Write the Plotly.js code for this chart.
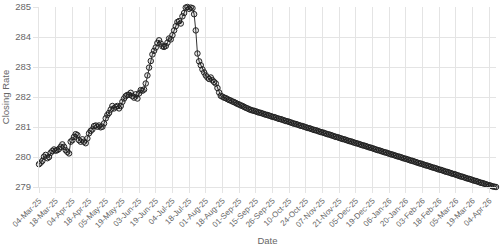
<!DOCTYPE html>
<html>
<head>
<meta charset="utf-8">
<script src="https://cdn.plot.ly/plotly-3.0.1.min.js"></script>
<style>html,body{margin:0;padding:0;background:#fff;}#chart{width:500px;height:250px;}</style>
</head>
<body>
<div id="chart"></div>
<script>
const dates = [
"04-Mar-25","05-Mar-25","06-Mar-25","07-Mar-25","10-Mar-25","11-Mar-25","12-Mar-25","13-Mar-25","14-Mar-25","17-Mar-25",
"18-Mar-25","19-Mar-25","20-Mar-25","21-Mar-25","24-Mar-25","25-Mar-25","26-Mar-25","27-Mar-25","28-Mar-25","03-Apr-25",
"04-Apr-25","07-Apr-25","08-Apr-25","09-Apr-25","10-Apr-25","11-Apr-25","14-Apr-25","15-Apr-25","16-Apr-25","17-Apr-25",
"18-Apr-25","21-Apr-25","22-Apr-25","23-Apr-25","24-Apr-25","25-Apr-25","28-Apr-25","29-Apr-25","30-Apr-25","02-May-25",
"05-May-25","06-May-25","07-May-25","08-May-25","09-May-25","12-May-25","13-May-25","14-May-25","15-May-25","16-May-25",
"19-May-25","20-May-25","21-May-25","22-May-25","23-May-25","26-May-25","27-May-25","29-May-25","30-May-25","02-Jun-25",
"03-Jun-25","04-Jun-25","05-Jun-25","10-Jun-25","11-Jun-25","12-Jun-25","13-Jun-25","16-Jun-25","17-Jun-25","18-Jun-25",
"19-Jun-25","20-Jun-25","23-Jun-25","24-Jun-25","25-Jun-25","26-Jun-25","27-Jun-25","30-Jun-25","02-Jul-25","03-Jul-25",
"04-Jul-25","07-Jul-25","08-Jul-25","09-Jul-25","10-Jul-25","11-Jul-25","14-Jul-25","15-Jul-25","16-Jul-25","17-Jul-25",
"18-Jul-25","21-Jul-25","22-Jul-25","23-Jul-25","24-Jul-25","25-Jul-25","28-Jul-25","29-Jul-25","30-Jul-25","31-Jul-25",
"01-Aug-25","04-Aug-25","05-Aug-25","06-Aug-25","07-Aug-25","08-Aug-25","11-Aug-25","12-Aug-25","13-Aug-25","15-Aug-25",
"18-Aug-25","19-Aug-25","20-Aug-25","21-Aug-25","22-Aug-25","25-Aug-25","26-Aug-25","27-Aug-25","28-Aug-25","29-Aug-25",
"01-Sep-25","02-Sep-25","03-Sep-25","04-Sep-25","05-Sep-25","08-Sep-25","09-Sep-25","10-Sep-25","11-Sep-25","12-Sep-25",
"15-Sep-25","16-Sep-25","17-Sep-25","18-Sep-25","19-Sep-25","20-Sep-25","22-Sep-25","23-Sep-25","24-Sep-25","25-Sep-25",
"26-Sep-25","29-Sep-25","30-Sep-25","01-Oct-25","02-Oct-25","03-Oct-25","06-Oct-25","07-Oct-25","08-Oct-25","09-Oct-25",
"10-Oct-25","13-Oct-25","14-Oct-25","15-Oct-25","16-Oct-25","17-Oct-25","20-Oct-25","21-Oct-25","22-Oct-25","23-Oct-25",
"24-Oct-25","27-Oct-25","28-Oct-25","29-Oct-25","30-Oct-25","31-Oct-25","03-Nov-25","04-Nov-25","05-Nov-25","06-Nov-25",
"07-Nov-25","10-Nov-25","11-Nov-25","12-Nov-25","13-Nov-25","14-Nov-25","17-Nov-25","18-Nov-25","19-Nov-25","20-Nov-25",
"21-Nov-25","24-Nov-25","25-Nov-25","26-Nov-25","27-Nov-25","28-Nov-25","01-Dec-25","02-Dec-25","03-Dec-25","04-Dec-25",
"05-Dec-25","08-Dec-25","09-Dec-25","10-Dec-25","11-Dec-25","12-Dec-25","15-Dec-25","16-Dec-25","17-Dec-25","18-Dec-25",
"19-Dec-25","22-Dec-25","23-Dec-25","24-Dec-25","26-Dec-25","29-Dec-25","30-Dec-25","31-Dec-25","02-Jan-26","05-Jan-26",
"06-Jan-26","07-Jan-26","08-Jan-26","09-Jan-26","12-Jan-26","13-Jan-26","14-Jan-26","15-Jan-26","16-Jan-26","19-Jan-26",
"20-Jan-26","21-Jan-26","22-Jan-26","23-Jan-26","26-Jan-26","27-Jan-26","28-Jan-26","29-Jan-26","30-Jan-26","02-Feb-26",
"03-Feb-26","04-Feb-26","06-Feb-26","09-Feb-26","10-Feb-26","11-Feb-26","12-Feb-26","13-Feb-26","16-Feb-26","17-Feb-26",
"18-Feb-26","19-Feb-26","20-Feb-26","23-Feb-26","24-Feb-26","25-Feb-26","26-Feb-26","27-Feb-26","03-Mar-26","04-Mar-26",
"05-Mar-26","06-Mar-26","09-Mar-26","10-Mar-26","11-Mar-26","12-Mar-26","13-Mar-26","16-Mar-26","17-Mar-26","18-Mar-26",
"19-Mar-26","24-Mar-26","25-Mar-26","26-Mar-26","27-Mar-26","30-Mar-26","31-Mar-26","01-Apr-26","02-Apr-26","03-Apr-26",
"04-Apr-26","06-Apr-26","07-Apr-26","08-Apr-26","09-Apr-26"
];

const closingRate = [
279.76,279.81,279.87,280.01,280.07,279.96,280.00,280.14,280.20,280.25,
280.21,280.23,280.27,280.34,280.42,280.34,280.23,280.17,280.12,280.51,
280.56,280.67,280.76,280.73,280.56,280.51,280.59,280.51,280.46,280.62,
280.79,280.87,280.92,281.03,281.05,281.01,281.05,280.99,281.01,281.12,
281.29,281.40,281.47,281.58,281.70,281.62,281.67,281.70,281.62,281.70,
281.84,281.95,282.03,282.07,282.07,282.14,282.03,281.98,282.09,281.95,
282.12,282.23,282.21,282.25,282.45,282.72,282.98,283.20,283.42,283.54,
283.65,283.80,283.89,283.78,283.69,283.67,283.70,283.81,283.95,283.92,
284.06,284.22,284.36,284.50,284.53,284.45,284.69,284.80,284.98,285.00,
284.94,284.98,284.96,284.76,284.22,283.45,283.19,283.06,282.92,282.82,
282.72,282.65,282.60,282.65,282.56,282.50,282.45,282.30,282.15,282.04,
282.01,281.98,281.96,281.93,281.90,281.88,281.85,281.83,281.80,281.77,
281.75,281.72,281.70,281.67,281.64,281.62,281.59,281.57,281.55,281.54,
281.52,281.50,281.48,281.47,281.45,281.43,281.41,281.40,281.38,281.36,
281.34,281.33,281.31,281.29,281.27,281.26,281.24,281.22,281.20,281.19,
281.17,281.15,281.13,281.11,281.10,281.08,281.06,281.04,281.03,281.01,
280.99,280.97,280.96,280.94,280.92,280.90,280.89,280.87,280.85,280.83,
280.82,280.80,280.78,280.76,280.75,280.73,280.71,280.69,280.67,280.66,
280.64,280.62,280.60,280.59,280.57,280.55,280.53,280.52,280.50,280.48,
280.46,280.45,280.43,280.41,280.39,280.38,280.36,280.34,280.32,280.31,
280.29,280.27,280.25,280.23,280.22,280.20,280.18,280.16,280.15,280.13,
280.11,280.09,280.08,280.06,280.04,280.02,280.01,279.99,279.97,279.95,
279.94,279.92,279.90,279.88,279.87,279.85,279.83,279.81,279.79,279.78,
279.76,279.74,279.72,279.71,279.69,279.67,279.65,279.64,279.62,279.60,
279.58,279.57,279.55,279.53,279.51,279.50,279.48,279.46,279.44,279.43,
279.41,279.39,279.37,279.35,279.34,279.32,279.30,279.28,279.27,279.25,
279.23,279.21,279.20,279.18,279.16,279.14,279.13,279.11,279.09,279.07,
279.06,279.04,279.02,279.01,279.00
];

const tickLabels = [
"04-Mar-25","18-Mar-25","04-Apr-25","18-Apr-25","05-May-25","19-May-25","03-Jun-25","19-Jun-25",
"04-Jul-25","18-Jul-25","01-Aug-25","18-Aug-25","01-Sep-25","15-Sep-25","26-Sep-25","10-Oct-25",
"24-Oct-25","07-Nov-25","21-Nov-25","05-Dec-25","19-Dec-25","06-Jan-26","20-Jan-26","03-Feb-26",
"18-Feb-26","05-Mar-26","19-Mar-26","04-Apr-26"
];

const yTicks = [279, 280, 281, 282, 283, 284, 285];

const gridColor = "#e4e4e4";
const textColor = "#666666";
const fontFamily = "Liberation Sans, Arial, Helvetica, sans-serif";

const trace = {
  x: dates,
  y: closingRate,
  type: "scatter",
  mode: "lines+markers",
  line: { color: "#333333", width: 1 },
  marker: { symbol: "circle", size: 5.5, color: "rgba(0,0,0,0.1)", line: { color: "#222222", width: 1 } },
  cliponaxis: false,
  hoverinfo: "x+y"
};

const layout = {
  width: 500,
  height: 250,
  margin: { l: 39, r: 4, t: 7, b: 63 },
  paper_bgcolor: "#ffffff",
  plot_bgcolor: "#ffffff",
  showlegend: false,
  font: { family: fontFamily, size: 9, color: textColor },
  xaxis: {
    type: "category",
    categoryorder: "array",
    categoryarray: dates,
    range: [0, dates.length - 1],
    tickmode: "array",
    tickvals: tickLabels,
    ticktext: tickLabels,
    tickangle: -45,
    tickfont: { size: 8, color: textColor, family: fontFamily },
    ticks: "outside",
    ticklen: 5,
    tickcolor: gridColor,
    showgrid: true,
    gridcolor: gridColor,
    gridwidth: 1,
    showline: true,
    linecolor: gridColor,
    linewidth: 1,
    zeroline: false,
    automargin: false,
    title: { text: "Date", font: { size: 9.5, color: textColor, family: fontFamily }, standoff: 8 }
  },
  yaxis: {
    range: [279, 285],
    tickmode: "array",
    tickvals: yTicks,
    ticktext: yTicks.map(String),
    tickfont: { size: 9.5, color: textColor, family: fontFamily },
    ticks: "outside",
    ticklen: 5,
    tickcolor: gridColor,
    showgrid: true,
    gridcolor: gridColor,
    gridwidth: 1,
    showline: true,
    linecolor: gridColor,
    linewidth: 1,
    zeroline: false,
    automargin: false,
    title: { text: "Closing Rate", font: { size: 9.5, color: textColor, family: fontFamily }, standoff: 6 }
  }
};

Plotly.newPlot("chart", [trace], layout, { staticPlot: true, displayModeBar: false });
</script>
</body>
</html>
